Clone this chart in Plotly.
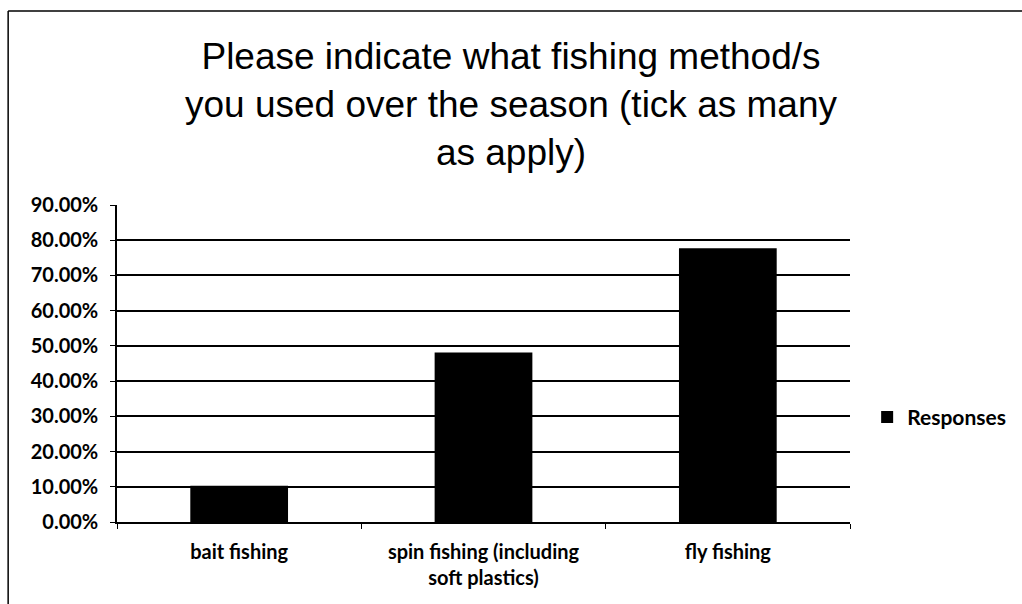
import plotly.graph_objects as go

categories = ["bait fishing", "spin fishing (including<br>soft plastics)", "fly fishing"]
values = [0.103, 0.481, 0.777]
series_name = "Responses"
title_text = "Please indicate what fishing method/s<br>you used over the season (tick as many<br>as apply)"

fig = go.Figure()
fig.add_trace(go.Bar(
    x=categories, y=values, name=series_name,
    marker=dict(color="#000000", line=dict(width=0)),
    showlegend=True,
))

tick_font = dict(size=20, family="Lato", color="black", weight="bold")

fig.update_layout(
    width=1022, height=604,
    margin=dict(l=117, r=171, t=205, b=82),
    paper_bgcolor="white", plot_bgcolor="white",
    bargap=0.6,
    title=dict(
        text=title_text,
        x=0.5, xanchor="center", xref="container",
        y=1 - 69 / 604, yanchor="top", yref="container",
        font=dict(family="Liberation Sans, Arial", size=37, color="black"),
    ),
    font=dict(family="Lato, Open Sans", color="black"),
    legend=dict(
        x=1.022, xanchor="left", y=0.33, yanchor="middle",
        font=dict(size=21, family="Lato", color="black", weight="bold"),
        bgcolor="rgba(0,0,0,0)",
    ),
    showlegend=True,
)

fig.update_yaxes(
    range=[0, 0.9], dtick=0.1, tickformat=".2%",
    showgrid=True, gridcolor="black", gridwidth=1.5,
    showline=True, linecolor="black", linewidth=1.5,
    ticks="outside", ticklen=5, tickcolor="black",
    ticklabelstandoff=8,
    tickfont=tick_font,
    zeroline=False,
)
fig.update_xaxes(
    showline=True, linecolor="black", linewidth=1.5,
    ticks="outside", ticklen=5, tickcolor="black",
    tickson="boundaries",
    ticklabelstandoff=11,
    tickfont=tick_font,
    showgrid=False,
)

# outer chart border (left and top)
fig.add_shape(type="line", xref="paper", yref="paper",
              x0=-0.1485, x1=-0.1485, y0=1.612, y1=-0.3,
              line=dict(color="black", width=1.5))
fig.add_shape(type="line", xref="paper", yref="paper",
              x0=-0.1485, x1=1.3, y0=1.612, y1=1.612,
              line=dict(color="black", width=1.5))

fig.write_html("out.html")
